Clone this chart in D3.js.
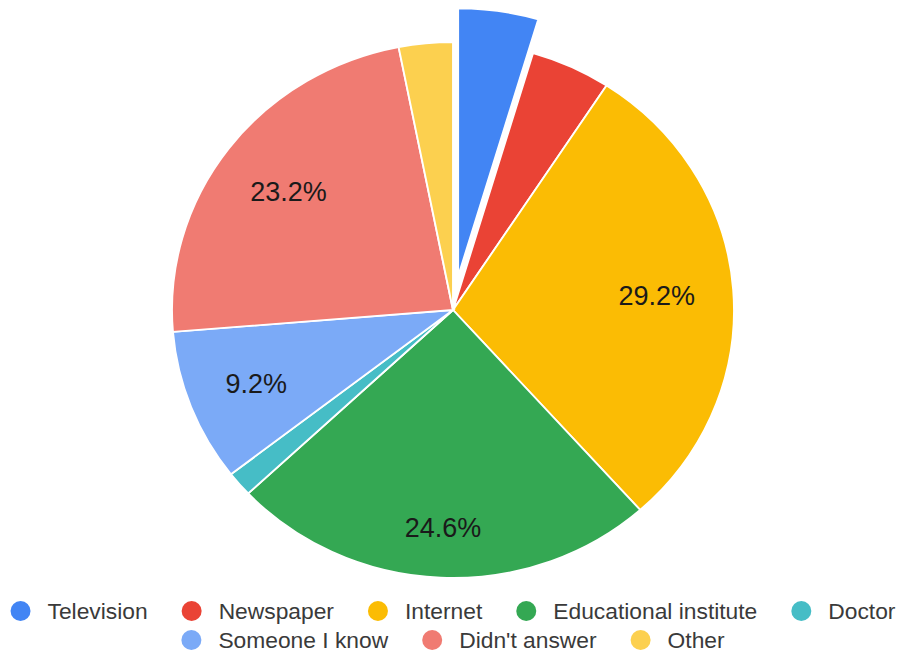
<!DOCTYPE html>
<html>
<head>
<meta charset="utf-8">
<script src="https://cdn.jsdelivr.net/npm/d3@7"></script>
<style>
  html, body { margin: 0; padding: 0; background: #fff; }
  svg { display: block; }
  text { font-family: Arial, "Liberation Sans", sans-serif; }
</style>
</head>
<body>
<svg id="chart" width="901" height="655"></svg>
<script>
const categories = ["Television", "Newspaper", "Internet", "Educational institute", "Doctor", "Someone I know", "Didn't answer", "Other"];
const values = [4.6, 4.6, 29.2, 24.6, 1.5, 9.2, 23.2, 3.1];
const colors = ["#4285F4", "#EA4335", "#FBBC04", "#34A853", "#46BDC6", "#7BAAF7", "#F07B72", "#FCD04F"];
const exploded = ["Television"];
const legendRows = [
  ["Television", "Newspaper", "Internet", "Educational institute", "Doctor"],
  ["Someone I know", "Didn't answer", "Other"]
];

const data = categories.map((c, i) => ({ name: c, value: values[i], color: colors[i] }));

const svg = d3.select("#chart");
const cx = 453, cy = 310;
const R = 268;
const Rx = 281;
const sx = Rx / R;
const explodeFrac = 0.127;
const cornerFrac = 0.866;   // farthest corner of each label box sits at this fraction of the radius
const labelFont = 27;

const pie = d3.pie().sort(null).value(d => d.value);
const arcs = pie(data);
const arc = d3.arc().innerRadius(0).outerRadius(R);

const g = svg.append("g").attr("transform", `translate(${cx},${cy}) scale(${sx},1)`);

g.selectAll("path.slice")
  .data(arcs)
  .join("path")
  .attr("class", "slice")
  .attr("d", arc)
  .attr("fill", d => d.data.color)
  .attr("stroke", "#fff")
  .attr("stroke-width", 1.8)
  .attr("transform", d => {
    if (!exploded.includes(d.data.name)) return null;
    const a = (d.startAngle + d.endAngle) / 2;
    const off = R * explodeFrac;
    return `translate(${Math.sin(a) * off},${-Math.cos(a) * off})`;
  });

const fmt = d3.format(".1f");
const labels = svg.append("g")
  .selectAll("text")
  .data(arcs.filter(d => d.data.value >= 5))
  .join("text")
  .attr("text-anchor", "middle")
  .attr("font-size", labelFont)
  .attr("fill", "#1a1a1a")
  .text(d => fmt(d.data.value) + "%");

labels.each(function (d) {
  const w = this.getComputedTextLength();
  const h = labelFont * 0.72;
  const a = (d.startAngle + d.endAngle) / 2;
  const ux = Math.sin(a), uy = -Math.cos(a);
  const hw = w / 2 / Rx, hh = h / 2 / R;
  const b = Math.abs(ux) * hw + Math.abs(uy) * hh;
  const c = hw * hw + hh * hh - cornerFrac * cornerFrac;
  const t = -b + Math.sqrt(b * b - c);
  const px = cx + ux * t * Rx;
  const py = cy + uy * t * R;
  d3.select(this).attr("x", px).attr("y", py + h / 2);
});

// Legend
const legendY = [611, 640];
const dotR = 10;
const textOff = 27;
const itemGap = 34;
const colorOf = name => colors[categories.indexOf(name)];
const legend = svg.append("g");

legendRows.forEach((row, ri) => {
  const rowG = legend.append("g");
  let x = 0;
  row.forEach(name => {
    const item = rowG.append("g").attr("transform", `translate(${x},0)`);
    item.append("circle")
      .attr("cx", dotR)
      .attr("cy", 0)
      .attr("r", dotR)
      .attr("fill", colorOf(name));
    const t = item.append("text")
      .attr("x", dotR + textOff)
      .attr("y", 0)
      .attr("dominant-baseline", "central")
      .attr("font-size", 22.8)
      .attr("fill", "#3a3a3a")
      .text(name);
    const w = t.node().getComputedTextLength();
    x += dotR + textOff + w + itemGap;
  });
  const total = x - itemGap;
  rowG.attr("transform", `translate(${cx - total / 2},${legendY[ri]})`);
});
</script>
</body>
</html>
